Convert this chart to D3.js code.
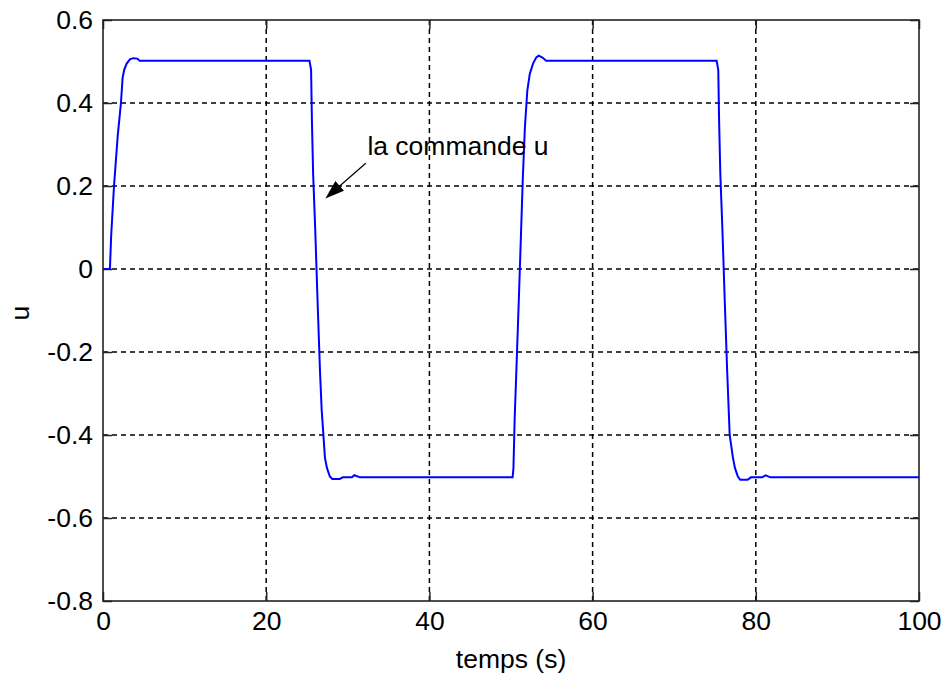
<!DOCTYPE html>
<html>
<head>
<meta charset="utf-8">
<script src="https://cdn.jsdelivr.net/npm/d3@7"></script>
<style>
  body { margin: 0; background: #fff; }
  text { font-family: Arial, "Liberation Sans", sans-serif; fill: #000; }
</style>
</head>
<body>
<div id="chart"></div>
<script>
// signal
const time = [0, 0.85, 1.0, 1.35, 1.8, 2.2, 2.4, 2.6, 2.9, 3.3, 3.7, 4.2, 4.5,
  25.3, 25.5, 25.6, 25.75, 26.0, 26.3, 26.6, 26.8, 27.2, 27.45, 27.8, 28.1, 29.0, 29.4, 30.5, 30.8, 31.5,
  50.2, 50.3, 50.45, 50.65, 51.0, 51.45, 51.7, 52.0, 52.3, 52.7, 53.1, 53.4, 53.9, 54.3,
  75.2, 75.4, 75.5, 75.65, 75.9, 76.2, 76.5, 76.8, 77.2, 77.45, 77.8, 78.1, 79.0, 79.4, 80.8, 81.2, 81.8, 100];
const u = [0, 0, 0.08, 0.2, 0.32, 0.4, 0.46, 0.48, 0.495, 0.505, 0.508, 0.507, 0.502,
  0.502, 0.48, 0.36, 0.23, 0.1, -0.08, -0.25, -0.34, -0.455, -0.48, -0.5, -0.506, -0.506, -0.502, -0.502, -0.497, -0.502,
  -0.502, -0.48, -0.36, -0.25, -0.05, 0.22, 0.34, 0.43, 0.47, 0.495, 0.51, 0.514, 0.509, 0.502,
  0.502, 0.48, 0.36, 0.23, 0.1, -0.08, -0.25, -0.4, -0.455, -0.48, -0.5, -0.508, -0.508, -0.502, -0.502, -0.497, -0.502, -0.502];

const xTicks = [0, 20, 40, 60, 80, 100];
const yTicks = [0.6, 0.4, 0.2, 0, -0.2, -0.4, -0.6, -0.8];
const xLabel = 'temps (s)';
const yLabel = 'u';
const note = 'la commande u';

const width = 945;
const height = 675;
const margin = { top: 20, right: 26, bottom: 74, left: 103 };
const w = width - margin.left - margin.right;
const h = height - margin.top - margin.bottom;
const fontSize = 26.5;

const svg = d3.select('#chart').append('svg')
  .attr('width', width)
  .attr('height', height);

svg.append('rect').attr('width', width).attr('height', height).attr('fill', '#fff');

const g = svg.append('g')
  .attr('transform', `translate(${margin.left},${margin.top})`);

const x = d3.scaleLinear().domain([0, 100]).range([0, w]);
const y = d3.scaleLinear().domain([-0.8, 0.6]).range([h, 0]);

// dashed grid
g.selectAll('.vgrid')
  .data(xTicks.slice(1, -1))
  .enter()
  .append('line')
  .attr('class', 'vgrid')
  .attr('x1', d => x(d)).attr('x2', d => x(d))
  .attr('y1', 0).attr('y2', h)
  .style('stroke', '#000')
  .style('stroke-width', 1.5)
  .style('stroke-dasharray', '5,4');

g.selectAll('.hgrid')
  .data(yTicks.slice(1, -1))
  .enter()
  .append('line')
  .attr('class', 'hgrid')
  .attr('x1', 0).attr('x2', w)
  .attr('y1', d => y(d)).attr('y2', d => y(d))
  .style('stroke', '#000')
  .style('stroke-width', 1.5)
  .style('stroke-dasharray', '5,4');

// axes, ticks pointing in
const tickLen = 9;
const styleAxis = sel => {
  sel.select('.domain').remove();
  sel.selectAll('.tick line').style('stroke', '#222').style('stroke-width', 1.5);
  sel.selectAll('text').style('font-size', `${fontSize}px`).style('font-family', 'Arial, "Liberation Sans", sans-serif').attr('fill', '#000');
};

g.append('g')
  .attr('transform', `translate(0,${h})`)
  .call(d3.axisBottom(x).tickValues(xTicks).tickSize(-tickLen).tickPadding(tickLen + 1).tickFormat(d3.format('d')))
  .call(styleAxis);

g.append('g')
  .call(d3.axisTop(x).tickValues(xTicks).tickSize(-tickLen).tickFormat(''))
  .call(styleAxis);

g.append('g')
  .call(d3.axisLeft(y).tickValues(yTicks).tickSize(-tickLen).tickPadding(tickLen + 1).tickFormat(d => d === 0 ? '0' : d3.format('.1f')(d).replace('−', '-')))
  .call(styleAxis);

g.append('g')
  .attr('transform', `translate(${w},0)`)
  .call(d3.axisRight(y).tickValues(yTicks).tickSize(-tickLen).tickFormat(''))
  .call(styleAxis);

// frame
g.append('rect')
  .attr('width', w).attr('height', h)
  .style('fill', 'none')
  .style('stroke', '#222')
  .style('stroke-width', 1.6);

// signal
const pts = time.map((t, i) => [t, u[i]]);
const line = d3.line()
  .x(d => x(d[0]))
  .y(d => y(d[1]));

g.append('path')
  .datum(pts)
  .attr('d', line)
  .style('fill', 'none')
  .style('stroke', '#0000ff')
  .style('stroke-width', 2);

// labels
svg.append('text')
  .attr('x', margin.left + w / 2)
  .attr('y', 668)
  .attr('text-anchor', 'middle')
  .style('font-size', `${fontSize}px`)
  .text(xLabel);

svg.append('text')
  .attr('transform', 'translate(29,313) rotate(-90)')
  .attr('text-anchor', 'middle')
  .style('font-size', `${fontSize}px`)
  .text(yLabel);

// annotation
g.append('text')
  .attr('x', x(32.4))
  .attr('y', y(0.274))
  .style('font-size', `${fontSize}px`)
  .text(note);

const tail = [x(32.2), y(0.255)];
const tip = [x(27.25), y(0.17)];
const ang = Math.atan2(tip[1] - tail[1], tip[0] - tail[0]);
const headLen = 19;
const headHalf = 6.5;
const base = [tip[0] - headLen * Math.cos(ang), tip[1] - headLen * Math.sin(ang)];

g.append('line')
  .attr('x1', tail[0]).attr('y1', tail[1])
  .attr('x2', base[0]).attr('y2', base[1])
  .style('stroke', '#000')
  .style('stroke-width', 1.2);

g.append('path')
  .attr('d', d3.line()([
    tip,
    [base[0] + headHalf * Math.sin(ang), base[1] - headHalf * Math.cos(ang)],
    [base[0] - headHalf * Math.sin(ang), base[1] + headHalf * Math.cos(ang)]
  ]) + 'Z')
  .style('fill', '#000');
</script>
</body>
</html>
